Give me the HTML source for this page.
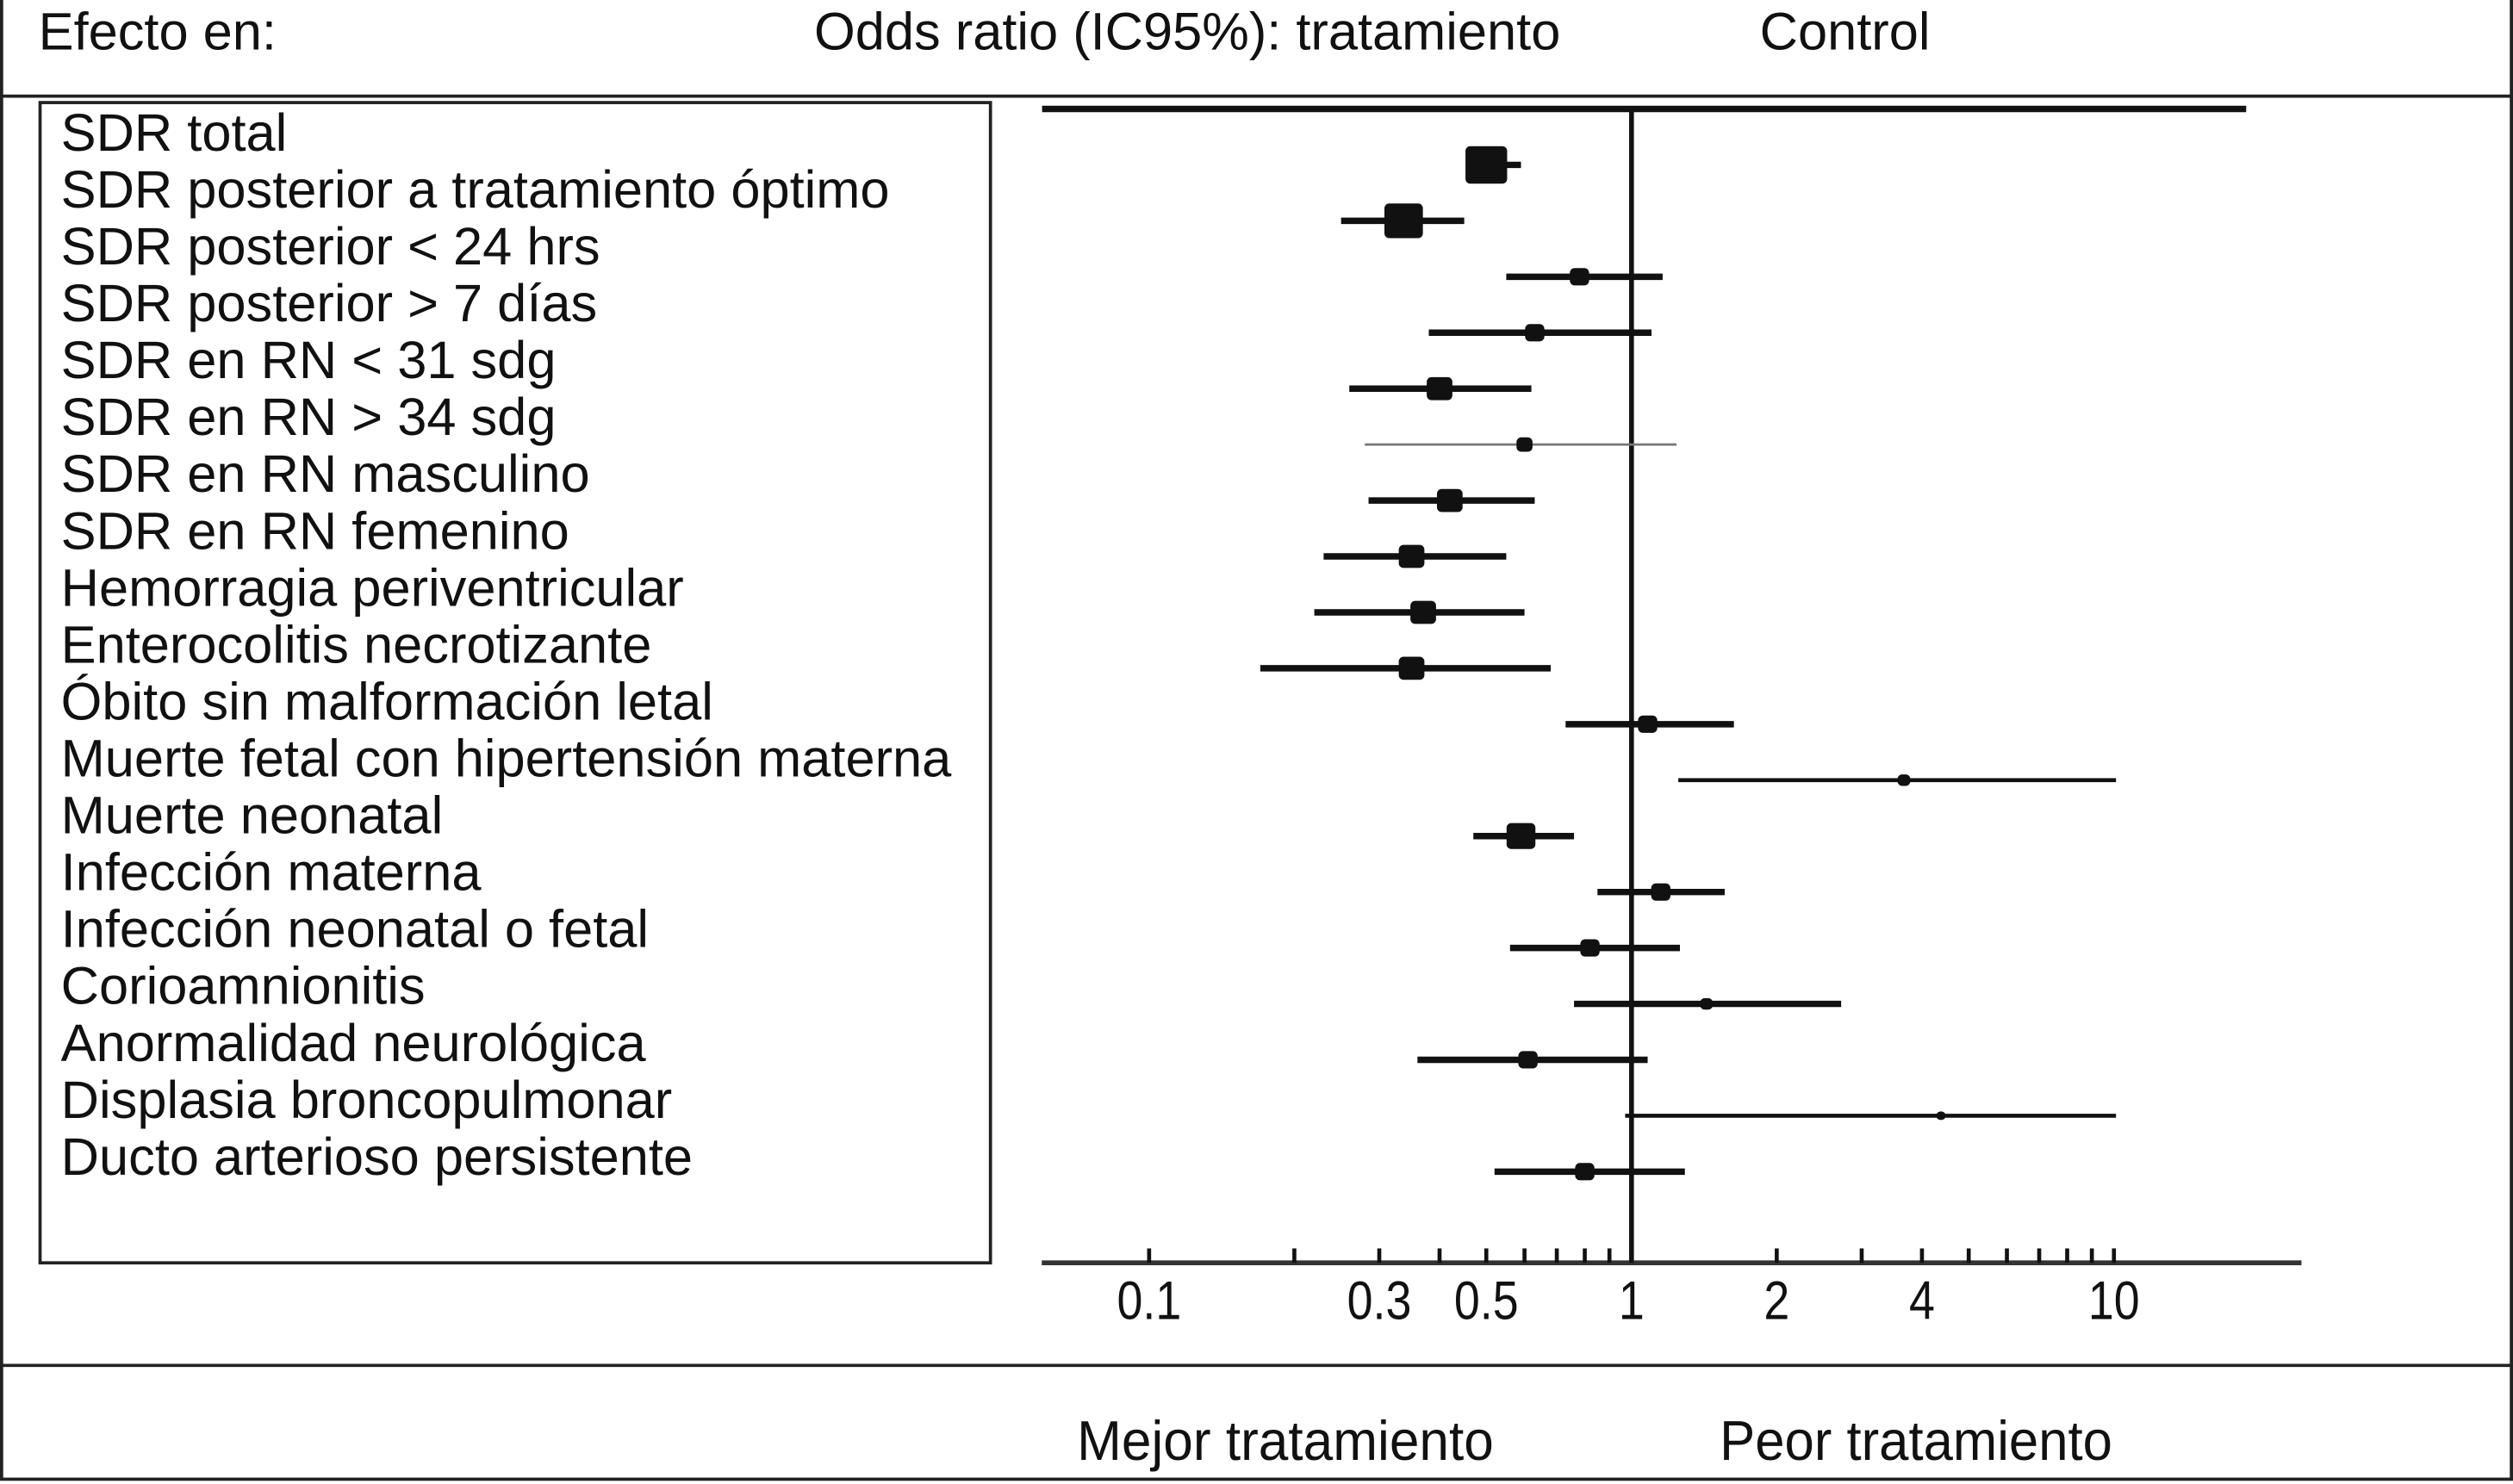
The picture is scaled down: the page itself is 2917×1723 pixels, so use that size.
<!DOCTYPE html>
<html><head><meta charset="utf-8">
<style>
html,body{margin:0;padding:0;background:#fff;}
svg{display:block;}
text{font-family:"Liberation Sans",Arial,sans-serif;fill:#111;}
</style></head>
<body>
<svg id="chart" width="2917" height="1723" viewBox="0 0 1568 926" preserveAspectRatio="none" xmlns="http://www.w3.org/2000/svg">
  <rect x="1" y="-2" width="1566" height="925" fill="none" stroke="#222" stroke-width="2"/>
  <line x1="0" y1="60" x2="1568" y2="60" stroke="#222" stroke-width="2"/>
  <line x1="0" y1="852" x2="1568" y2="852" stroke="#222" stroke-width="2"/>
  <text x="24" y="31" font-size="33">Efecto en:</text>
  <text x="508" y="31" font-size="33">Odds ratio (IC95%): tratamiento</text>
  <text x="1098" y="31" font-size="33">Control</text>
  <rect x="25" y="64" width="593" height="724" fill="none" stroke="#222" stroke-width="2"/>
  <text x="672" y="911" font-size="35" textLength="260" lengthAdjust="spacingAndGlyphs">Mejor tratamiento</text>
  <text x="1073" y="911" font-size="35" textLength="245" lengthAdjust="spacingAndGlyphs">Peor tratamiento</text>
  <g id="labels"></g>
  <g id="plot"></g>
</svg>
<script>
const labels=["SDR total","SDR posterior a tratamiento óptimo","SDR posterior < 24 hrs","SDR posterior > 7 días","SDR en RN < 31 sdg","SDR en RN > 34 sdg","SDR en RN masculino","SDR en RN femenino","Hemorragia periventricular","Enterocolitis necrotizante","Óbito sin malformación letal","Muerte fetal con hipertensión materna","Muerte neonatal","Infección materna","Infección neonatal o fetal","Corioamnionitis","Anormalidad neurológica","Displasia broncopulmonar","Ducto arterioso persistente"];
const estimates=[1.0,0.50,0.337,0.78,0.63,0.40,0.60,0.42,0.35,0.37,0.35,1.08,3.67,0.59,1.15,0.82,1.43,0.61,4.38,0.80];
const lower=[0.06,0.46,0.25,0.55,0.38,0.26,0.28,0.285,0.23,0.22,0.17,0.73,1.25,0.47,0.85,0.56,0.76,0.36,0.97,0.52];
const upper=[18.8,0.59,0.45,1.16,1.10,0.62,1.24,0.63,0.55,0.60,0.68,1.63,10.1,0.76,1.56,1.26,2.72,1.08,10.1,1.29];
const weights=[0,26,24,12,12,16,10,16,16,16,16,12,8,18,12,12,8,12,6,12];
const tickValues=[0.1,0.2,0.3,0.4,0.5,0.6,0.7,0.8,0.9,1,2,3,4,5,6,7,8,9,10];
const tickLabels=["0.1","0.3","0.5","1","2","4","10"];
const tickLabelValues=[0.1,0.3,0.5,1,2,4,10];

const NS="http://www.w3.org/2000/svg";
const X1=1018, DEC=301;
function xScale(v){return X1+Math.log10(v)*DEC;}
function rowY(i){return 68+i*34.9;}
function labelY(i){return 83+i*35.5;}
function mk(tag,attrs,parent){const e=document.createElementNS(NS,tag);for(const k in attrs)e.setAttribute(k,attrs[k]);parent.appendChild(e);return e;}
const lg=document.getElementById('labels'), pg=document.getElementById('plot');
labels.forEach((t,i)=>{
  const e=mk('text',{x:38,y:labelY(i)+11,'font-size':33},lg);
  
  
  e.textContent=t;
});
const nl=mk('line',{x1:xScale(1),y1:68,x2:xScale(1),y2:788,stroke:'#111','stroke-width':3},pg);


const ax=mk('line',{x1:650,y1:788,x2:1436,y2:788,stroke:'#333','stroke-width':3},pg);


tickValues.forEach(v=>{
  const t=mk('line',{x1:xScale(v),y1:779,x2:xScale(v),y2:788,stroke:'#111','stroke-width':2.5},pg);
  
  
});
tickLabels.forEach((s,i)=>{
  const t=mk('text',{x:xScale(tickLabelValues[i]),y:823,'font-size':34,'text-anchor':'middle',transform:'translate('+xScale(tickLabelValues[i])+',0) scale(0.85,1) translate('+(-xScale(tickLabelValues[i]))+',0)'},pg);
  
  
  t.textContent=s;
});
estimates.forEach((v,i)=>{
  const y=rowY(i);
  const sw = i===0?4:(i===6?1.5:(i===12||i===18?2.5:4));
  const ci=mk('line',{x1:xScale(lower[i]),y1:y,x2:xScale(upper[i]),y2:y,stroke:i===6?'#777':'#111','stroke-width':sw},pg);
  
  
  const w=weights[i];
  if(w>0){
    const h=w*0.9;
    const m=mk('rect',{x:xScale(v)-w/2,y:y-h/2,width:w,height:h,rx:3,fill:'#111'},pg);
    
    
  }
});
</script>
</body></html>
